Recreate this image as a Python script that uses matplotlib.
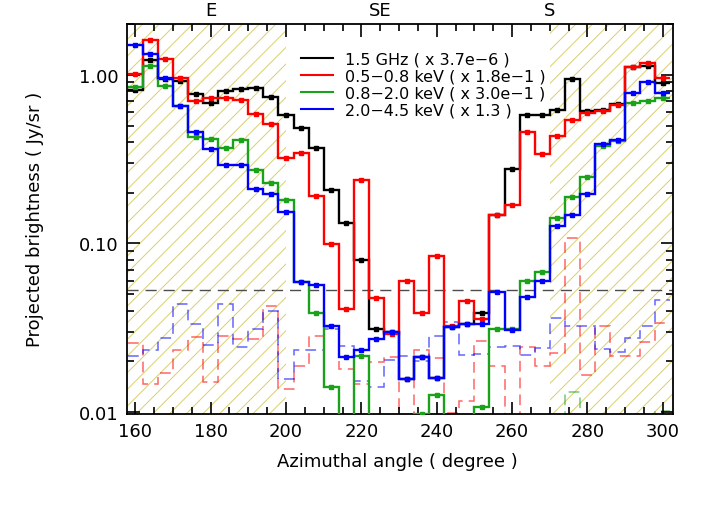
import numpy as np
import matplotlib
matplotlib.use("Agg")
import matplotlib.pyplot as plt
from matplotlib.lines import Line2D
from matplotlib.ticker import FixedLocator, MultipleLocator, LogLocator, NullFormatter

# --- data: 4-degree azimuthal bins, centres 160..300 ---
bin_edges = np.arange(158, 303, 4)
bin_centres = bin_edges[:-1] + 2
LOW = 1e-3   # below the plotted range

radio_15ghz = [0.813, 1.23, 0.95, 0.920, 0.765, 0.682, 0.802, 0.820, 0.839, 0.734,
               0.580, 0.483, 0.368, 0.206, 0.132, 0.0802, 0.0312, 0.0298, 0.0156, 0.0211,
               0.0160, 0.0321, 0.0334, 0.0384, 0.148, 0.278, 0.580, 0.575, 0.617, 0.946,
               0.611, 0.617, 0.675, 1.11, 1.12, 0.899]
soft_05_08 = [1.01, 1.61, 1.24, 0.954, 0.698, 0.731, 0.731, 0.708, 0.583, 0.512,
              0.323, 0.342, 0.190, 0.0990, 0.0407, 0.239, 0.0472, 0.0289, 0.060, 0.0389,
              0.0844, 0.0324, 0.0457, 0.0358, 0.148, 0.168, 0.457, 0.339, 0.436, 0.537,
              0.594, 0.611, 0.661, 1.11, 1.17, 0.963]
mid_08_20 = [0.843, 1.12, 0.863, 0.652, 0.426, 0.417, 0.366, 0.411, 0.271, 0.229,
             0.180, 0.0594, 0.0384, 0.0141, LOW, 0.0214, LOW, LOW, LOW, 0.00977,
             0.01254, LOW, LOW, 0.0107, 0.0312, 0.0310, 0.0597, 0.0676, 0.141, 0.189,
             0.249, 0.377, 0.404, 0.676, 0.698, 0.724]
hard_20_45 = [1.51, 1.33, 0.963, 0.652, 0.457, 0.363, 0.291, 0.291, 0.209, 0.195,
              0.153, 0.0594, 0.0568, 0.0324, 0.0211, 0.0234, 0.0272, 0.0298, 0.0156, 0.0211,
              0.0160, 0.0321, 0.0334, 0.0334, 0.0515, 0.0306, 0.0479, 0.0597, 0.126, 0.147,
              0.197, 0.389, 0.411, 0.776, 0.912, 0.776]

# background levels (dashed)
bkg_soft = [0.0257, 0.0146, 0.0171, 0.0234, 0.0278, 0.0151, 0.0282, 0.0272, 0.0272, 0.0423,
            0.0137, 0.0187, 0.0284, 0.032, 0.0180, 0.0146, 0.0197, 0.0212, LOW, 0.0232,
            0.0209, 0.00986, 0.01164, 0.0265, 0.0187, LOW, 0.0242, 0.0188, 0.0224, 0.108,
            0.0166, 0.0324, 0.0216, 0.0216, 0.0259, 0.0339]
bkg_mid = [LOW] * 29 + [0.0132] + [LOW] * 5 + [0.0102]
bkg_hard = [0.0216, 0.0232, 0.0275, 0.0437, 0.0334, 0.0249, 0.0437, 0.0243, 0.0312, 0.0398,
            0.0157, 0.0232, 0.0232, 0.031, 0.0245, 0.0153, 0.0140, 0.0204, 0.0216, 0.0200,
            0.0282, 0.0342, 0.0219, 0.0221, 0.0242, 0.0245, 0.0217, 0.0240, 0.0363, 0.0324,
            0.0324, 0.0237, 0.0227, 0.0273, 0.0324, 0.0461]
noise_level = 0.053

labels = ["1.5 GHz ( x 3.7e\u22126 )", "0.5\u22120.8 keV ( x 1.8e\u22121 )",
          "0.8\u22122.0 keV ( x 3.0e\u22121 )", "2.0\u22124.5 keV ( x 1.3 )"]
colors = ["black", "#ff0000", "#1aa31a", "#0000ff"]
masked_ranges = [(157.9, 200), (270, 302.6)]
directions = ["E", "SE", "S"]
direction_angles = [180, 225, 270]

# --- plot ---
plt.rcParams['font.family'] = ['DejaVu Sans']
plt.rcParams['hatch.color'] = '#d9cf6e'
plt.rcParams['hatch.linewidth'] = 0.7

fig = plt.figure(figsize=(7.08, 5.06), dpi=100)
ax = fig.add_axes([0.1798, 0.1808, 0.7703, 0.7698])

for x0, x1 in masked_ranges:
    ax.axvspan(x0, x1, facecolor='none', edgecolor='#d9cf6e', hatch='//', lw=0, zorder=0)

for bkg, c in zip([bkg_soft, bkg_mid, bkg_hard], colors[1:]):
    ax.stairs(bkg, bin_edges, baseline=None, color=c, lw=1.1, alpha=0.6,
              linestyle=(0, (7, 4)), zorder=1)

ax.axhline(noise_level, color='0.3', lw=1.0, linestyle=(0, (8, 5)), zorder=1)

for series, c in zip([radio_15ghz, soft_05_08, mid_08_20, hard_20_45], colors):
    ax.stairs(series, bin_edges, baseline=None, color=c, lw=1.7, zorder=3)
    ax.plot(bin_centres, series, 's', color=c, ms=2.4, zorder=3)

ax.set_yscale('log')
ax.set_xlim(157.9, 302.6)
ax.set_ylim(0.0098, 2.0)

ax.yaxis.set_major_locator(FixedLocator([0.01, 0.1, 1.0]))
ax.yaxis.set_minor_locator(LogLocator(base=10, subs=np.arange(2, 10)))
ax.yaxis.set_minor_formatter(NullFormatter())
ax.set_yticklabels(["0.01", "0.10", "1.00"])
ax.xaxis.set_major_locator(MultipleLocator(20))
ax.xaxis.set_minor_locator(MultipleLocator(5))

ax.tick_params(which='both', direction='in', top=True, right=True, labelsize=13, width=1.2)
ax.tick_params(which='major', length=9, pad=6)
ax.tick_params(which='minor', length=5)
for s in ax.spines.values():
    s.set_linewidth(1.3)

ax.set_xlabel("Azimuthal angle ( degree )", fontsize=13)
ax.set_ylabel("Projected brightness ( Jy/sr )", fontsize=13)
ax.xaxis.set_label_coords(0.496, -0.098)
ax.yaxis.set_label_coords(-0.152, 0.5)

for name, ang in zip(directions, direction_angles):
    ax.text(ang, 1.012, name, transform=ax.get_xaxis_transform(), ha='center', va='bottom',
            fontsize=13)

handles = [Line2D([], [], color=c, lw=1.5) for c in colors]
ax.legend(handles, labels, loc='upper left', bbox_to_anchor=(0.318, 0.93), frameon=False,
          fontsize=11.5, handlelength=2.0, handletextpad=0.8, labelspacing=0.13, borderpad=0,
          borderaxespad=0)

fig.savefig("out.png", dpi=100)
